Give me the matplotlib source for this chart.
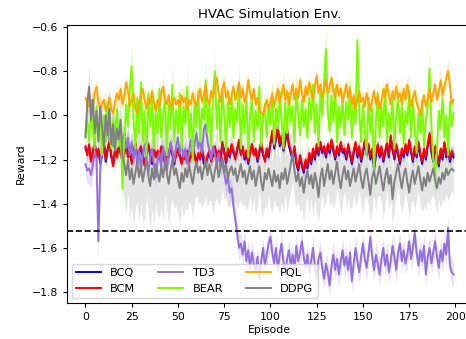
import numpy as np
import matplotlib
matplotlib.use("Agg")
import matplotlib.pyplot as plt

episodes = list(range(200))

BCQ = [-1.15,-1.17,-1.14,-1.20,-1.17,-1.13,-1.18,-1.16,-1.21,-1.18,
-1.12,-1.21,-1.15,-1.12,-1.19,-1.22,-1.16,-1.18,-1.15,-1.16,
-1.20,-1.17,-1.14,-1.18,-1.16,-1.21,-1.18,-1.13,-1.19,-1.17,
-1.15,-1.18,-1.22,-1.18,-1.14,-1.17,-1.22,-1.16,-1.18,-1.17,
-1.19,-1.15,-1.17,-1.21,-1.17,-1.18,-1.14,-1.18,-1.22,-1.17,
-1.16,-1.18,-1.21,-1.18,-1.19,-1.17,-1.20,-1.19,-1.15,-1.18,
-1.21,-1.18,-1.19,-1.16,-1.22,-1.22,-1.19,-1.17,-1.20,-1.18,
-1.15,-1.18,-1.17,-1.21,-1.13,-1.16,-1.22,-1.16,-1.19,-1.14,
-1.17,-1.19,-1.16,-1.12,-1.17,-1.15,-1.20,-1.17,-1.22,-1.16,
-1.14,-1.17,-1.16,-1.21,-1.17,-1.13,-1.18,-1.20,-1.16,-1.19,
-1.13,-1.08,-1.15,-1.11,-1.06,-1.14,-1.10,-1.16,-1.12,-1.07,
-1.14,-1.17,-1.20,-1.15,-1.22,-1.25,-1.19,-1.23,-1.26,-1.21,
-1.24,-1.18,-1.22,-1.16,-1.20,-1.14,-1.18,-1.13,-1.17,-1.15,
-1.19,-1.14,-1.17,-1.12,-1.16,-1.20,-1.15,-1.18,-1.13,-1.17,
-1.16,-1.20,-1.14,-1.18,-1.22,-1.17,-1.13,-1.19,-1.15,-1.21,
-1.17,-1.12,-1.18,-1.14,-1.20,-1.16,-1.25,-1.18,-1.14,-1.19,
-1.15,-1.21,-1.17,-1.13,-1.19,-1.10,-1.16,-1.20,-1.14,-1.18,
-1.22,-1.16,-1.19,-1.14,-1.18,-1.12,-1.17,-1.21,-1.15,-1.19,
-1.13,-1.18,-1.22,-1.16,-1.20,-1.14,-1.09,-1.17,-1.21,-1.15,
-1.18,-1.23,-1.16,-1.20,-1.13,-1.19,-1.15,-1.21,-1.17,-1.19]

BCM = [-1.14,-1.18,-1.13,-1.21,-1.16,-1.12,-1.19,-1.15,-1.22,-1.17,
-1.13,-1.20,-1.16,-1.11,-1.18,-1.23,-1.15,-1.19,-1.14,-1.17,
-1.21,-1.16,-1.13,-1.19,-1.15,-1.22,-1.17,-1.12,-1.20,-1.16,
-1.14,-1.19,-1.23,-1.17,-1.13,-1.18,-1.21,-1.15,-1.19,-1.16,
-1.20,-1.14,-1.18,-1.22,-1.16,-1.19,-1.13,-1.17,-1.21,-1.18,
-1.15,-1.19,-1.22,-1.17,-1.20,-1.16,-1.21,-1.18,-1.14,-1.19,
-1.22,-1.17,-1.20,-1.15,-1.19,-1.23,-1.18,-1.16,-1.21,-1.17,
-1.14,-1.19,-1.16,-1.20,-1.12,-1.17,-1.21,-1.15,-1.18,-1.13,
-1.16,-1.20,-1.15,-1.11,-1.18,-1.14,-1.19,-1.16,-1.21,-1.17,
-1.13,-1.18,-1.15,-1.20,-1.16,-1.12,-1.17,-1.21,-1.15,-1.18,
-1.12,-1.07,-1.14,-1.10,-1.05,-1.13,-1.09,-1.15,-1.11,-1.06,
-1.13,-1.16,-1.19,-1.14,-1.21,-1.24,-1.18,-1.22,-1.25,-1.20,
-1.23,-1.17,-1.21,-1.15,-1.19,-1.13,-1.17,-1.12,-1.16,-1.14,
-1.18,-1.13,-1.16,-1.11,-1.15,-1.19,-1.14,-1.17,-1.12,-1.16,
-1.15,-1.19,-1.13,-1.17,-1.21,-1.16,-1.12,-1.18,-1.14,-1.20,
-1.16,-1.11,-1.17,-1.13,-1.19,-1.15,-1.22,-1.17,-1.13,-1.18,
-1.14,-1.20,-1.16,-1.12,-1.18,-1.09,-1.15,-1.19,-1.13,-1.17,
-1.21,-1.15,-1.18,-1.13,-1.17,-1.11,-1.16,-1.20,-1.14,-1.18,
-1.12,-1.17,-1.21,-1.15,-1.19,-1.13,-1.08,-1.16,-1.20,-1.14,
-1.17,-1.22,-1.15,-1.19,-1.12,-1.18,-1.14,-1.20,-1.16,-1.18]

TD3 = [-1.22,-1.25,-1.24,-1.27,-1.23,-1.16,-1.20,-1.57,-1.25,-1.11,
-1.05,-1.10,-1.03,-1.12,-1.07,-1.14,-1.09,-1.04,-1.11,-1.06,
-1.13,-1.08,-1.15,-1.10,-1.18,-1.12,-1.20,-1.14,-1.22,-1.16,
-1.24,-1.18,-1.13,-1.21,-1.26,-1.19,-1.15,-1.22,-1.28,-1.20,
-1.17,-1.23,-1.14,-1.19,-1.25,-1.18,-1.12,-1.16,-1.21,-1.14,
-1.10,-1.17,-1.13,-1.19,-1.15,-1.22,-1.16,-1.11,-1.18,-1.13,
-1.08,-1.15,-1.11,-1.17,-1.06,-1.04,-1.12,-1.16,-1.20,-1.14,
-1.18,-1.22,-1.17,-1.24,-1.20,-1.26,-1.31,-1.28,-1.35,-1.33,
-1.41,-1.47,-1.53,-1.60,-1.58,-1.63,-1.57,-1.66,-1.61,-1.69,
-1.62,-1.67,-1.71,-1.64,-1.74,-1.66,-1.60,-1.68,-1.63,-1.58,
-1.55,-1.62,-1.67,-1.60,-1.70,-1.63,-1.58,-1.66,-1.72,-1.65,
-1.61,-1.68,-1.63,-1.70,-1.59,-1.66,-1.62,-1.57,-1.64,-1.69,
-1.63,-1.71,-1.66,-1.60,-1.68,-1.73,-1.65,-1.62,-1.69,-1.74,
-1.67,-1.71,-1.77,-1.68,-1.63,-1.70,-1.65,-1.72,-1.66,-1.61,
-1.68,-1.64,-1.70,-1.62,-1.75,-1.67,-1.60,-1.66,-1.71,-1.64,
-1.58,-1.65,-1.69,-1.62,-1.55,-1.64,-1.70,-1.63,-1.67,-1.72,
-1.65,-1.60,-1.68,-1.63,-1.71,-1.66,-1.59,-1.64,-1.70,-1.62,
-1.58,-1.66,-1.61,-1.67,-1.63,-1.57,-1.65,-1.60,-1.53,-1.62,
-1.68,-1.61,-1.66,-1.59,-1.72,-1.64,-1.60,-1.67,-1.62,-1.57,
-1.64,-1.69,-1.61,-1.66,-1.58,-1.63,-1.51,-1.68,-1.71,-1.72]

BEAR = [-1.08,-1.02,-1.12,-0.98,-1.06,-1.15,-0.96,-1.10,-1.04,-1.18,
-1.00,-1.12,-0.94,-1.08,-1.15,-1.02,-1.10,-0.97,-1.14,-1.05,
-1.33,-1.10,-0.95,-1.05,-0.88,-0.78,-1.02,-1.15,-0.92,-1.08,
-0.85,-1.12,-0.98,-1.20,-0.90,-1.05,-0.93,-1.15,-0.99,-1.08,
-0.88,-1.10,-1.00,-0.92,-1.18,-0.95,-1.06,-0.86,-1.12,-0.98,
-1.08,-0.90,-1.15,-0.96,-1.04,-0.87,-1.10,-0.99,-1.20,-0.93,
-1.05,-0.89,-1.12,-0.97,-1.02,-0.84,-1.08,-0.95,-1.14,-0.90,
-0.80,-1.06,-0.93,-1.12,-0.88,-1.00,-1.16,-0.94,-1.05,-0.91,
-1.10,-0.97,-1.03,-0.86,-1.15,-0.95,-1.08,-0.90,-1.19,-1.00,
-0.92,-1.12,-0.98,-1.06,-0.87,-1.14,-1.01,-0.95,-1.10,-0.96,
-1.04,-0.91,-1.13,-0.97,-1.06,-0.89,-1.02,-1.15,-0.94,-1.08,
-0.90,-1.03,-0.96,-1.12,-0.88,-1.00,-1.09,-0.93,-1.05,-0.97,
-1.10,-0.92,-1.02,-0.86,-1.08,-0.95,-1.14,-0.90,-1.00,-0.85,
-0.70,-0.98,-1.07,-0.91,-1.03,-0.88,-1.12,-0.96,-1.05,-0.92,
-1.09,-0.94,-1.02,-0.87,-1.10,-0.93,-1.04,-0.66,-0.98,-1.12,
-0.95,-1.06,-1.18,-0.92,-1.08,-0.97,-1.25,-1.03,-0.90,-1.10,
-0.96,-1.05,-0.88,-1.12,-0.99,-1.07,-0.93,-1.15,-1.00,-0.91,
-1.08,-0.95,-1.13,-0.98,-1.04,-0.89,-1.10,-0.94,-1.06,-1.17,
-0.99,-1.08,-0.93,-1.14,-1.02,-0.96,-0.79,-1.05,-1.20,-1.28,
-1.15,-0.98,-1.06,-0.92,-1.10,-1.00,-1.18,-0.94,-1.05,-0.99]

PQL = [-0.92,-0.94,-0.96,-0.93,-0.97,-0.90,-0.87,-0.94,-0.97,-0.95,
-0.93,-0.98,-0.96,-0.92,-0.97,-0.99,-0.94,-0.90,-0.93,-0.88,
-0.95,-0.91,-0.85,-0.89,-0.96,-0.93,-0.90,-0.97,-0.99,-0.94,
-0.91,-0.88,-0.93,-0.97,-0.92,-0.95,-0.89,-0.94,-0.98,-0.93,
-0.96,-0.90,-0.87,-0.93,-0.95,-0.91,-0.97,-0.94,-0.92,-0.95,
-0.93,-0.96,-0.91,-0.94,-0.92,-0.97,-0.93,-0.95,-0.90,-0.94,
-0.96,-0.92,-0.88,-0.94,-0.91,-0.86,-0.93,-0.95,-0.89,-0.92,
-0.87,-0.83,-0.90,-0.94,-0.88,-0.85,-0.92,-0.89,-0.95,-0.91,
-0.87,-0.93,-0.90,-0.85,-0.92,-0.88,-0.94,-0.91,-0.84,-0.90,
-0.93,-0.88,-0.95,-0.92,-0.97,-0.99,-1.00,-0.96,-0.93,-0.97,
-0.94,-0.90,-0.96,-0.92,-0.88,-0.94,-0.91,-0.86,-0.93,-0.89,
-0.95,-0.90,-0.86,-0.93,-0.88,-0.92,-0.84,-0.90,-0.94,-0.87,
-0.91,-0.85,-0.89,-0.93,-0.87,-0.82,-0.90,-0.86,-0.92,-0.88,
-0.84,-0.90,-0.87,-0.83,-0.89,-0.92,-0.86,-0.91,-0.88,-0.94,
-0.90,-0.86,-0.92,-0.88,-0.95,-0.91,-0.97,-0.93,-0.89,-0.94,
-0.92,-0.96,-0.90,-0.94,-0.98,-0.93,-0.89,-0.95,-0.91,-0.97,
-0.94,-0.88,-0.92,-0.86,-0.91,-0.95,-0.89,-0.93,-0.87,-0.92,
-0.90,-0.95,-0.88,-0.93,-0.86,-0.91,-0.96,-0.92,-0.89,-0.94,
-0.97,-1.00,-0.95,-0.91,-0.96,-0.93,-0.88,-0.94,-0.90,-0.86,
-0.93,-0.89,-0.84,-0.91,-0.87,-0.83,-0.80,-0.86,-0.95,-0.93]

DDPG = [-1.10,-0.95,-0.87,-1.02,-0.93,-1.08,-0.98,-1.12,-0.96,-1.05,
-1.14,-1.00,-1.09,-0.97,-1.13,-1.04,-1.16,-1.06,-1.11,-1.02,
-1.18,-1.22,-1.27,-1.20,-1.29,-1.24,-1.31,-1.26,-1.21,-1.28,
-1.23,-1.30,-1.25,-1.19,-1.27,-1.32,-1.24,-1.29,-1.22,-1.26,
-1.30,-1.23,-1.28,-1.21,-1.26,-1.31,-1.25,-1.20,-1.27,-1.24,
-1.29,-1.33,-1.26,-1.30,-1.24,-1.28,-1.22,-1.27,-1.31,-1.25,
-1.21,-1.26,-1.23,-1.29,-1.24,-1.20,-1.27,-1.22,-1.26,-1.30,
-1.25,-1.21,-1.28,-1.24,-1.19,-1.26,-1.22,-1.29,-1.25,-1.23,
-1.27,-1.24,-1.30,-1.26,-1.22,-1.28,-1.25,-1.31,-1.27,-1.23,
-1.29,-1.25,-1.32,-1.27,-1.23,-1.30,-1.34,-1.26,-1.29,-1.24,
-1.28,-1.32,-1.25,-1.30,-1.27,-1.33,-1.26,-1.29,-1.24,-1.31,
-1.27,-1.22,-1.17,-1.25,-1.30,-1.26,-1.32,-1.28,-1.35,-1.29,
-1.25,-1.31,-1.27,-1.33,-1.26,-1.30,-1.37,-1.28,-1.24,-1.32,
-1.27,-1.22,-1.29,-1.25,-1.31,-1.26,-1.21,-1.28,-1.33,-1.27,
-1.23,-1.29,-1.25,-1.32,-1.28,-1.24,-1.30,-1.26,-1.22,-1.29,
-1.33,-1.27,-1.24,-1.30,-1.36,-1.28,-1.25,-1.31,-1.27,-1.23,
-1.29,-1.34,-1.28,-1.24,-1.31,-1.27,-1.38,-1.30,-1.26,-1.22,
-1.28,-1.33,-1.27,-1.24,-1.30,-1.35,-1.29,-1.25,-1.31,-1.27,
-1.23,-1.29,-1.34,-1.28,-1.32,-1.26,-1.30,-1.27,-1.24,-1.29,
-1.33,-1.28,-1.31,-1.26,-1.29,-1.24,-1.27,-1.25,-1.24,-1.25]

# spreads (std band half-width) in hundredths of reward
BCQ_SPREAD = [3,2,2,3,2,3,2,2,3,2, 2,3,2,2,3,2,2,3,2,3, 2,3,2,2,3,2,3,2,2,3, 2,2,3,2,3,2,2,3,2,2,
3,2,2,3,2,2,3,2,2,3, 2,3,2,2,3,2,2,3,2,2, 3,2,2,3,2,2,3,2,3,2, 2,2,3,2,2,3,2,2,3,2,
2,3,2,2,3,2,2,3,2,3, 3,2,2,3,2,3,2,2,3,2, 2,3,2,2,3,2,3,2,2,3, 2,2,3,2,2,3,2,2,3,2,
3,2,2,3,2,2,3,2,2,3, 2,3,2,2,3,2,2,3,2,2, 2,2,3,2,3,2,2,3,2,2, 3,2,2,3,2,2,3,2,3,2,
2,3,2,2,3,2,2,2,3,2, 2,2,3,2,2,3,2,3,2,2, 3,2,2,3,2,2,3,2,2,3, 2,3,2,2,3,2,2,3,2,2]
BCM_SPREAD = [2,3,2,2,3,2,3,2,2,3, 3,2,2,3,2,2,3,2,3,2, 2,2,3,2,3,2,2,3,2,2, 3,2,2,3,2,3,2,2,3,2,
2,3,2,2,2,3,2,3,2,2, 3,2,3,2,2,2,3,2,2,3, 2,2,3,2,3,2,2,2,3,2, 2,3,2,3,2,2,3,2,2,2,
3,2,2,2,3,2,3,2,2,3, 2,3,2,2,3,2,2,3,2,2, 2,2,3,2,2,3,2,2,3,2, 3,2,2,3,2,2,3,2,2,3,
2,3,2,2,3,2,2,3,2,2, 2,2,3,2,2,3,2,3,2,2, 3,2,2,3,2,2,2,3,2,3, 2,3,2,2,2,3,2,2,3,2,
2,2,3,2,3,2,2,3,2,2, 3,2,2,2,3,2,3,2,2,3, 2,3,2,3,2,2,3,2,2,2, 2,2,3,2,2,3,2,2,3,2]
TD3_SPREAD = [5,6,7,6,5,7,6,8,7,6, 5,4,5,4,5,4,5,4,4,5, 4,5,4,5,4,5,4,4,5,4, 5,4,4,5,4,4,5,4,5,4,
4,5,4,4,5,4,4,5,4,4, 5,4,4,5,4,5,4,4,5,4, 4,5,4,4,5,4,4,5,4,5, 4,4,5,4,5,5,6,5,6,5,
6,6,5,6,5,5,6,5,5,6, 5,5,6,5,6,5,5,6,5,5, 6,5,5,6,5,5,6,5,6,5, 5,6,5,5,6,5,5,6,5,5,
6,5,5,6,5,6,5,5,6,5, 5,6,5,5,6,5,5,6,5,5, 6,5,5,6,5,5,6,5,5,6, 5,5,6,5,6,5,5,6,5,5,
6,5,5,6,5,5,6,5,6,5, 5,6,5,5,6,5,5,6,5,5, 6,5,5,6,5,6,5,5,6,5, 5,6,5,5,6,5,6,5,6,6]
BEAR_SPREAD = [8,6,9,7,10,6,8,11,7,9, 6,10,8,7,9,11,6,8,10,7, 12,9,7,8,10,11,7,9,6,10, 8,11,7,9,6,10,8,7,11,9,
7,10,8,6,11,9,7,10,8,6, 9,7,11,8,6,10,9,7,12,8, 10,7,9,6,8,11,7,9,10,6, 11,8,7,10,9,6,11,8,7,9,
10,7,8,11,9,6,8,10,12,7, 9,10,7,8,11,9,6,8,10,7, 8,9,11,7,10,8,6,11,9,7, 10,8,7,11,9,6,10,8,7,9,
11,7,9,8,10,7,11,8,6,10, 13,8,10,7,9,11,8,6,10,9, 7,10,8,11,9,7,10,13,8,11, 9,7,10,8,11,6,12,9,7,10,
8,11,7,9,6,10,8,11,7,9, 10,7,9,6,8,11,10,7,9,12, 8,10,7,11,9,6,12,8,11,10, 9,7,10,8,11,7,10,9,8,7]
PQL_SPREAD = [3,4,3,5,4,3,4,5,3,4, 4,3,5,4,3,4,3,5,4,3, 4,5,3,4,3,5,4,3,4,3, 5,3,4,4,3,5,3,4,3,4,
3,4,5,3,4,3,4,3,5,4, 4,3,4,5,3,4,3,4,3,5, 3,4,3,4,5,3,4,3,4,3, 4,5,3,4,3,4,5,3,4,3,
3,4,4,3,5,4,3,4,5,3, 4,3,5,4,3,4,4,3,4,5, 3,4,3,5,4,3,4,5,3,4, 4,3,4,3,5,4,3,4,3,4,
5,3,4,4,3,5,4,3,4,3, 3,4,5,3,4,3,4,5,3,4, 4,3,4,5,3,4,3,4,4,3, 3,5,4,3,4,5,3,4,3,4,
4,3,5,4,3,4,3,5,4,3, 3,4,3,4,5,3,4,3,4,5, 4,3,4,3,4,5,3,4,3,4, 3,4,5,4,3,4,5,4,3,4]
DDPG_SPREAD = [6,8,9,7,8,10,7,9,8,10, 9,11,8,10,12,9,11,10,12,11, 14,16,18,15,19,17,20,16,18,21, 17,19,22,18,16,20,18,21,17,19,
16,18,20,15,17,19,16,18,15,17, 15,17,14,16,18,15,17,14,16,13, 15,14,16,13,15,17,14,16,13,15, 14,16,13,15,14,12,15,13,16,14,
13,15,12,14,16,13,15,12,14,13, 15,12,14,13,11,14,12,15,13,12, 14,12,13,11,14,12,13,15,12,13, 11,13,12,14,11,13,12,14,13,11,
12,14,11,13,12,14,11,13,12,10, 13,11,12,14,11,13,12,10,13,12, 11,13,12,10,14,12,11,13,12,11, 12,10,13,11,12,14,11,12,10,13,
11,13,12,10,12,11,13,11,12,10, 12,11,13,11,10,12,11,13,12,11, 11,12,10,13,11,12,11,10,12,11, 12,10,11,12,10,11,12,11,10,11]

BASELINE = -1.523

labels = ["BCQ", "BCM", "TD3", "BEAR", "PQL", "DDPG"]
means = [BCQ, BCM, TD3, BEAR, PQL, DDPG]
spreads = [BCQ_SPREAD, BCM_SPREAD, TD3_SPREAD, BEAR_SPREAD, PQL_SPREAD, DDPG_SPREAD]
colors = ["blue", "red", "mediumpurple", "lawngreen", "orange", "grey"]

fig = plt.figure(figsize=(4.66, 3.39), dpi=100)
ax = fig.add_axes([67/466, 36/339, (472-67)/466, 278/339])

x = np.array(episodes)
for lab, m, s, c in zip(labels, means, spreads, colors):
    m = np.array(m)
    s = np.array(s) / 100.0
    ax.fill_between(x, m - s, m + s, color=c, alpha=0.2, linewidth=0)
    ax.plot(x, m, color=c, lw=1.4, label=lab)

ax.axhline(BASELINE, color="black", ls="--", lw=1.2)

ax.set_xlim(-9.95, 208.95)
ax.set_ylim(-1.849, -0.591)
ax.set_xticks([0, 25, 50, 75, 100, 125, 150, 175, 200])
ax.set_yticks([-1.8, -1.6, -1.4, -1.2, -1.0, -0.8, -0.6])
ax.tick_params(labelsize=7.8, length=3)
ax.set_title("HVAC Simulation Env.", fontsize=9.5, pad=5)
ax.set_xlabel("Episode", fontsize=7.8, labelpad=2)
ax.set_ylabel("Reward", fontsize=7.8, labelpad=4)
ax.legend(loc="lower left", ncol=3, fontsize=8.2, handlelength=2.2,
          columnspacing=2.0, borderaxespad=0.4)

fig.savefig("out.png", dpi=100)
